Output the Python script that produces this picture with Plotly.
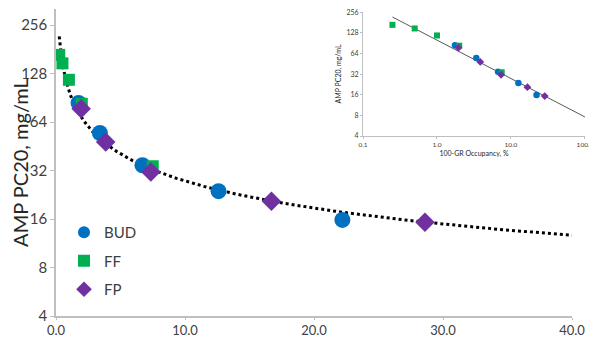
import numpy as np
import plotly.graph_objects as go

# ---- data ----
bud_x = [1.75, 3.4, 6.7, 12.6, 22.2]
bud_y = [84, 54.7, 34.5, 23.8, 15.8]
ff_x = [0.25, 0.5, 1.0, 2.0, 7.5]
ff_y = [167, 148, 117, 83, 34]
fp_x = [1.95, 3.85, 7.35, 16.7, 28.6]
fp_y = [77.4, 48.1, 31.3, 20.6, 15.3]

# power trendline y = A * x^B
trend_a = 100.0
trend_b = -0.56
main_trend_range = [0.25, 40.0]
inset_trend_range = [0.25, 100.0]

y_ticks = [4, 8, 16, 32, 64, 128, 256]
main_x_ticks = [0, 10, 20, 30, 40]
inset_x_ticks = [0.1, 1, 10, 100]
inset_x_labels = ["0.1", "1.0", "10.0", "100.0"]

BLUE = "#0070C0"
GREEN = "#00B050"
PURPLE = "#7030A0"
AXIS = "#BFBFBF"
FONT = "Lato, 'Open Sans', sans-serif"

# the page body has an 8px margin; the figure is sized to fit the window
OFF = 8
W, H = 597 - OFF, 338 - OFF

def px_x(p):
    return (p - OFF) / W

def px_y(p):
    return min(1.0, max(0.0, 1 - (p - OFF) / H))

mt_x = np.geomspace(main_trend_range[0], main_trend_range[1], 200)
mt_y = trend_a * mt_x ** trend_b
it_x = np.geomspace(inset_trend_range[0], inset_trend_range[1], 50)
it_y = trend_a * it_x ** trend_b

fig = go.Figure()

# main chart
fig.add_trace(go.Scatter(x=mt_x, y=mt_y, mode="lines", showlegend=False,
                         line=dict(color="black", width=3, dash="dot"),
                         xaxis="x", yaxis="y", hoverinfo="skip"))
fig.add_trace(go.Scatter(x=bud_x, y=bud_y, mode="markers", name="BUD",
                         legendgroup="a",
                         marker=dict(symbol="circle", size=16, color=BLUE),
                         xaxis="x", yaxis="y"))
fig.add_trace(go.Scatter(x=ff_x, y=ff_y, mode="markers", name="FF",
                         legendgroup="b",
                         marker=dict(symbol="square", size=12, color=GREEN),
                         xaxis="x", yaxis="y"))
fig.add_trace(go.Scatter(x=fp_x, y=fp_y, mode="markers", name="FP",
                         legendgroup="c",
                         marker=dict(symbol="diamond", size=15, color=PURPLE),
                         xaxis="x", yaxis="y"))

# inset chart
fig.add_trace(go.Scatter(x=it_x, y=it_y, mode="lines", showlegend=False,
                         line=dict(color="#595959", width=1),
                         xaxis="x2", yaxis="y2", hoverinfo="skip"))
fig.add_trace(go.Scatter(x=bud_x, y=bud_y, mode="markers", showlegend=False,
                         marker=dict(symbol="circle", size=6.5, color=BLUE),
                         xaxis="x2", yaxis="y2"))
fig.add_trace(go.Scatter(x=ff_x, y=ff_y, mode="markers", showlegend=False,
                         marker=dict(symbol="square", size=6, color=GREEN),
                         xaxis="x2", yaxis="y2"))
fig.add_trace(go.Scatter(x=fp_x, y=fp_y, mode="markers", showlegend=False,
                         marker=dict(symbol="diamond", size=6, color=PURPLE),
                         xaxis="x2", yaxis="y2"))

oct_px = (316 - 25) / 6.0
top_main = np.log10(256) + (25 - 9) / oct_px * np.log10(2)

fig.update_layout(
    width=W, height=H,
    margin=dict(l=0, r=0, t=0, b=0, autoexpand=False),
    paper_bgcolor="white", plot_bgcolor="rgba(0,0,0,0)",
    font=dict(family=FONT, color="#404040"),
    showlegend=True,
    legend=dict(x=px_x(64), y=px_y(216), xanchor="left", yanchor="top",
                bgcolor="rgba(0,0,0,0)", font=dict(size=15, color="#404040"),
                itemsizing="constant", traceorder="grouped",
                tracegroupgap=6, itemwidth=30),
    xaxis=dict(domain=[px_x(56), px_x(572)], range=[0, 40],
               tickvals=main_x_ticks, tickformat=".1f",
               showline=True, linecolor=AXIS, linewidth=1.5,
               ticks="outside", ticklen=2, tickcolor=AXIS,
               showgrid=False, zeroline=False, automargin=False,
               tickfont=dict(size=13, color="#404040"),
               ticklabeloverflow="allow",
               anchor="y"),
    yaxis=dict(domain=[px_y(316), px_y(9)], type="log",
               range=[np.log10(4), top_main],
               tickvals=y_ticks, ticktext=[str(v) for v in y_ticks],
               showline=True, linecolor=AXIS, linewidth=1.5,
               ticks="outside", ticklen=4, tickcolor=AXIS,
               showgrid=False, zeroline=False, automargin=False,
               tickfont=dict(size=15, color="#404040"),
               title=dict(text="AMP PC20, mg/mL", font=dict(size=20, color="#262626"),
                          standoff=8),
               anchor="x"),
    xaxis2=dict(domain=[px_x(363), px_x(585)], type="log", range=[-1, 2.001],
                tickvals=inset_x_ticks, ticktext=inset_x_labels,
                showline=True, linecolor=AXIS, linewidth=1,
                ticks="outside", ticklen=2, tickcolor=AXIS,
                showgrid=False, zeroline=False, automargin=False,
                tickfont=dict(size=6.5, color="#404040"),
                ticklabeloverflow="allow",
                title=dict(text="100-GR Occupancy, %", font=dict(size=7, color="#262626"),
                           standoff=4),
                anchor="y2"),
    yaxis2=dict(domain=[px_y(136), px_y(12)], type="log",
                range=[np.log10(4), np.log10(256) + 0.002],
                tickvals=y_ticks, ticktext=[str(v) for v in y_ticks],
                showline=True, linecolor=AXIS, linewidth=1,
                ticks="outside", ticklen=2, tickcolor=AXIS,
                showgrid=False, zeroline=False, automargin=False,
                tickfont=dict(size=7, color="#404040"),
                ticklabeloverflow="allow",
                title=dict(text="AMP PC20, mg/mL", font=dict(size=7, color="#262626"),
                           standoff=3),
                anchor="x2"),
)

fig.write_html("out.html")
